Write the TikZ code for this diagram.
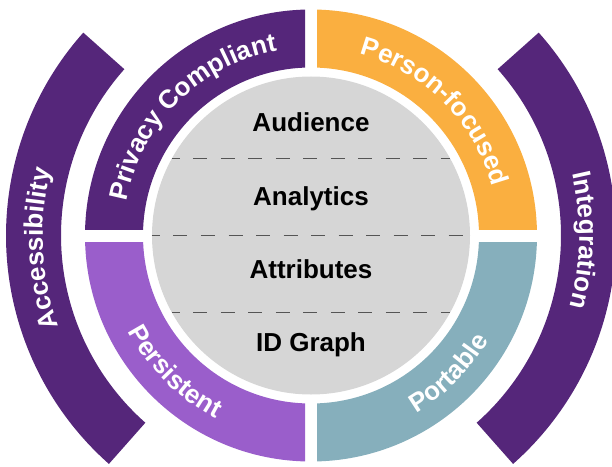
\documentclass[tikz,border=0pt]{standalone}
\usepackage{fontspec}
\setmainfont{Liberation Sans}
\usetikzlibrary{decorations.text}
\definecolor{dpurple}{RGB}{85,38,122}
\definecolor{lpurple}{RGB}{154,94,203}
\definecolor{orangeq}{RGB}{250,175,64}
\definecolor{blueq}{RGB}{134,175,188}
\definecolor{grayc}{RGB}{214,214,214}
\definecolor{dashc}{RGB}{85,85,85}
\newcommand\bandfont{\bfseries\fontsize{26}{26}\selectfont}
\begin{document}
\begin{tikzpicture}[x=1pt,y=1pt,
  quadfill/.style={even odd rule},
  bandtext/.style={decorate, decoration={text along path, text={|\bandfont|#1}, text align=center, text color=white}},
  layertext/.style={anchor=base, font=\bandfont, text=black},
  sepline/.style={draw=dashc, line width=1.2pt, dash pattern=on 14pt off 13.5pt, dash phase=6pt}]
\useasboundingbox (-311,-230.5) rectangle (301,235.5);
\clip (-311,-230.5) rectangle (301,235.5);
% quadrants
\begin{scope}
  \clip (-320,6.5) rectangle (-6,240);
  \fill[dpurple, quadfill] (0,0) circle[radius=226] (0,0) circle[radius=168];
\end{scope}
\begin{scope}
  \clip (6,6.5) rectangle (320,240);
  \fill[orangeq, quadfill] (0,0) circle[radius=226] (0,0) circle[radius=168];
\end{scope}
\begin{scope}
  \clip (6,-6.5) rectangle (320,-240);
  \fill[blueq, quadfill] (0,0) circle[radius=226] (0,0) circle[radius=168];
\end{scope}
\begin{scope}
  \clip (-320,-6.5) rectangle (-6,-240);
  \fill[lpurple, quadfill] (0,0) circle[radius=226] (0,0) circle[radius=168];
\end{scope}
% outer arcs
\fill[dpurple] (138.3:305) arc[start angle=138.3, end angle=228.5, radius=305]
  -- (228.5:250) arc[start angle=228.5, end angle=138.3, radius=250] -- cycle;
\fill[dpurple] (41.7:305) arc[start angle=41.7, end angle=-48.5, radius=305]
  -- (-48.5:250) arc[start angle=-48.5, end angle=41.7, radius=250] -- cycle;
% center circle
\fill[grayc] (0,0) circle[radius=159];
\draw[sepline] (-139.1,77) -- (139.1,77);
\draw[sepline] (-159,0) -- (159,0);
\draw[sepline] (-139.1,-77) -- (139.1,-77);
\node[layertext] (aud) at (0,103.8) {Audience};
\node[layertext] (ana) at (0,30.5) {Analytics};
\node[layertext] (att) at (0,-42.8) {Attributes};
\node[layertext] (idg) at (0,-116.1) {ID Graph};
% band texts
\path[bandtext=Privacy Compliant] (180:187.7) arc[start angle=180, end angle=90, radius=187.7];
\path[bandtext=Person-focused] (90:187.7) arc[start angle=90, end angle=0, radius=187.7];
\path[bandtext=Persistent] (180:206.3) arc[start angle=180, end angle=270, radius=206.3];
\path[bandtext=Portable] (270:206.3) arc[start angle=270, end angle=360, radius=206.3];
\path[bandtext=Accessibility] (227.8:268.2) arc[start angle=227.8, end angle=137.8, radius=268.2];
\path[bandtext=Integration] (44:268.2) arc[start angle=44, end angle=-46, radius=268.2];
\end{tikzpicture}
\end{document}
